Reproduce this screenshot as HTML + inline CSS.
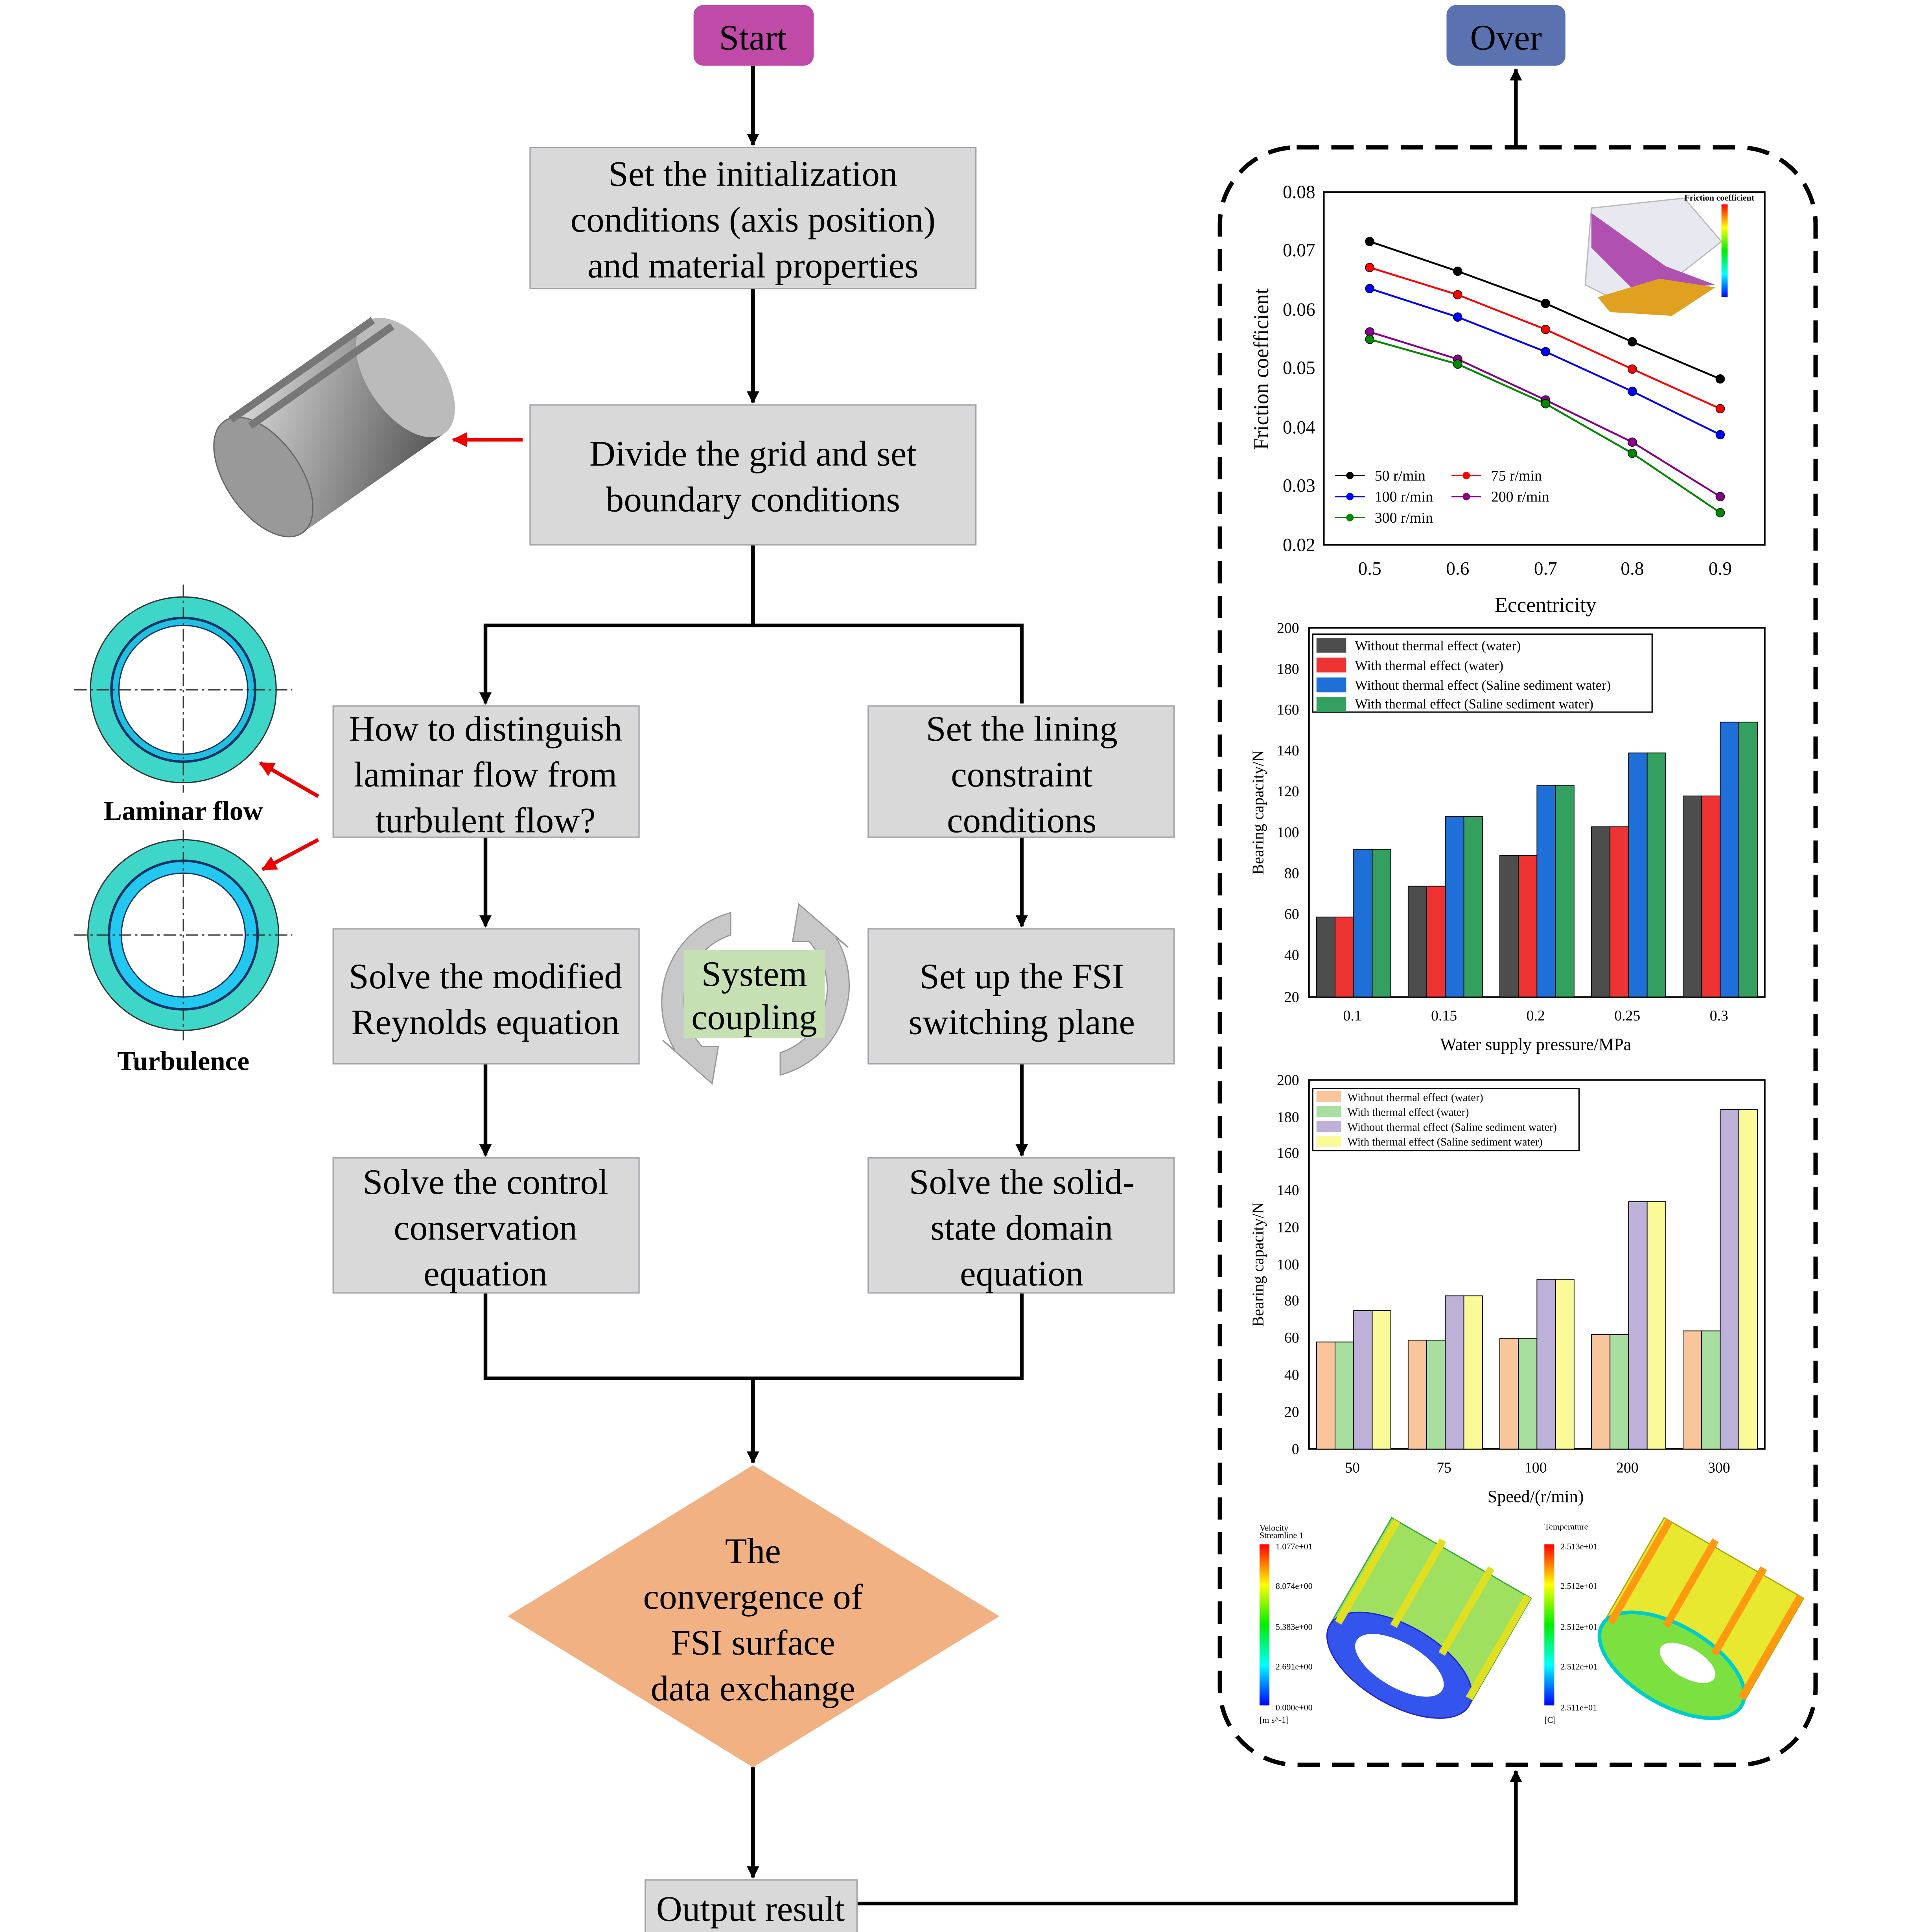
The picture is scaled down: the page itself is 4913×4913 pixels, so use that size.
<!DOCTYPE html>
<html><head><meta charset="utf-8"><style>
html,body{margin:0;padding:0;background:#fff}
svg{display:block}
text{font-family:"Liberation Serif",serif}
</style></head><body>
<svg width="4913" height="4913" viewBox="0 0 1560 1560" xmlns="http://www.w3.org/2000/svg">
<defs>
<marker id="ah" markerWidth="10" markerHeight="10" refX="9" refY="5" orient="auto" markerUnits="userSpaceOnUse"><path d="M0,0 L10,5 L0,10 z" fill="#000"/></marker>
<marker id="rh" markerWidth="12" markerHeight="12" refX="11" refY="6" orient="auto" markerUnits="userSpaceOnUse"><path d="M0,0 L12,6 L0,12 z" fill="#e00"/></marker>
<linearGradient id="cyl" x1="0" y1="0" x2="1" y2="1"><stop offset="0" stop-color="#ddd"/><stop offset="0.5" stop-color="#999"/><stop offset="1" stop-color="#555"/></linearGradient>
<linearGradient id="jet" x1="0" y1="1" x2="0" y2="0"><stop offset="0" stop-color="#00f"/><stop offset="0.25" stop-color="#0ff"/><stop offset="0.5" stop-color="#0e0"/><stop offset="0.75" stop-color="#ff0"/><stop offset="1" stop-color="#f00"/></linearGradient>
</defs>
<g stroke="#000" stroke-width="3" fill="none">
<line x1="608" y1="53" x2="608" y2="117" marker-end="url(#ah)"/>
<line x1="608" y1="233" x2="608" y2="325" marker-end="url(#ah)"/>
<polyline points="608,440 608,505 392,505 392,568" marker-end="url(#ah)"/>
<polyline points="608,505 825,505 825,568"/>
<line x1="392" y1="676" x2="392" y2="748" marker-end="url(#ah)"/>
<line x1="825" y1="676" x2="825" y2="748" marker-end="url(#ah)"/>
<line x1="392" y1="859" x2="392" y2="933" marker-end="url(#ah)"/>
<line x1="825" y1="859" x2="825" y2="933" marker-end="url(#ah)"/>
<polyline points="392,1044 392,1113 825,1113 825,1044"/>
<line x1="608" y1="1113" x2="608" y2="1181" marker-end="url(#ah)"/>
<line x1="608" y1="1427" x2="608" y2="1516" marker-end="url(#ah)"/>
<polyline points="692,1537 1224,1537 1224,1430" marker-end="url(#ah)"/>
<line x1="1224" y1="119" x2="1224" y2="56" marker-end="url(#ah)"/>
</g>
<rect x="560" y="4" width="97" height="49" rx="8" fill="#c04aa8"/>
<text x="608" y="40" font-size="29" text-anchor="middle" fill="#000">Start</text>
<rect x="1168" y="4" width="96" height="49" rx="8" fill="#5a73b0"/>
<text x="1216" y="40" font-size="29" text-anchor="middle" fill="#000">Over</text>
<g fill="#d9d9d9" stroke="#a0a0a8" stroke-width="1">
<rect x="428" y="119" width="360" height="114"/>
<rect x="428" y="327" width="360" height="113"/>
<rect x="269" y="570" width="247" height="106"/>
<rect x="701" y="570" width="247" height="106"/>
<rect x="269" y="750" width="247" height="109"/>
<rect x="701" y="750" width="247" height="109"/>
<rect x="269" y="935" width="247" height="109"/>
<rect x="701" y="935" width="247" height="109"/>
<rect x="521" y="1518" width="171" height="44"/>
</g>
<g font-size="29" text-anchor="middle" fill="#000">
<text x="608" y="150">Set the initialization</text>
<text x="608" y="187">conditions (axis position)</text>
<text x="608" y="224">and material properties</text>
<text x="608" y="376">Divide the grid and set</text>
<text x="608" y="413">boundary conditions</text>
<text x="392" y="598">How to distinguish</text>
<text x="392" y="635">laminar flow from</text>
<text x="392" y="672">turbulent flow?</text>
<text x="825" y="598">Set the lining</text>
<text x="825" y="635">constraint</text>
<text x="825" y="672">conditions</text>
<text x="392" y="798">Solve the modified</text>
<text x="392" y="835">Reynolds equation</text>
<text x="825" y="798">Set up the FSI</text>
<text x="825" y="835">switching plane</text>
<text x="392" y="964">Solve the control</text>
<text x="392" y="1001">conservation</text>
<text x="392" y="1038">equation</text>
<text x="825" y="964">Solve the solid-</text>
<text x="825" y="1001">state domain</text>
<text x="825" y="1038">equation</text>
<text x="606" y="1551">Output result</text>
</g>
<polygon points="608,1183 807,1305 608,1427 410,1305" fill="#f2b183"/>
<g font-size="29" text-anchor="middle"><text x="608" y="1262">The</text><text x="608" y="1299">convergence of</text><text x="608" y="1336">FSI surface</text><text x="608" y="1373">data exchange</text></g>
<!-- system coupling -->
<path d="M590,737 A75,75 0 0 0 545,848 L535,840 L575,875 L580,845 L567,845 A55,55 0 0 1 590,755 z" fill="#c8c8c8" stroke="#999"/>
<path d="M630,868 A75,75 0 0 0 675,757 L685,765 L645,730 L640,760 L653,760 A55,55 0 0 1 630,850 z" fill="#c8c8c8" stroke="#999"/>
<rect x="552" y="767" width="114" height="71" fill="#c6e0b4"/>
<text x="609" y="796" font-size="29" text-anchor="middle">System</text>
<text x="609" y="831" font-size="29" text-anchor="middle">coupling</text>
<!-- cylinder -->
<g transform="rotate(-35 270 345)">
<rect x="200" y="290" width="140" height="110" fill="url(#cyl)"/>
<ellipse cx="200" cy="345" rx="30" ry="55" fill="#999" stroke="#666"/>
<ellipse cx="340" cy="345" rx="30" ry="55" fill="#bbb"/>
<g stroke="#777" stroke-width="6"><line x1="205" y1="292" x2="345" y2="292"/><line x1="215" y1="305" x2="355" y2="305"/></g>
</g>
<line x1="422" y1="355" x2="366" y2="355" stroke="#e00" stroke-width="3" marker-end="url(#rh)"/>
<!-- rings -->
<g>
<circle cx="148" cy="557" r="75" fill="#3dd6c8" stroke="#333" stroke-width="1"/>
<circle cx="148" cy="557" r="58" fill="#20c0e0" stroke="#136" stroke-width="2"/>
<circle cx="148" cy="557" r="52" fill="#fff" stroke="#136" stroke-width="1"/>
<circle cx="148" cy="755" r="77" fill="#3dd6c8" stroke="#333" stroke-width="1"/>
<circle cx="148" cy="755" r="60" fill="#22c8f0" stroke="#136" stroke-width="2"/>
<circle cx="148" cy="755" r="50" fill="#fff" stroke="#136" stroke-width="1"/>
<g stroke="#333" stroke-dasharray="10,3,2,3" stroke-width="1">
<line x1="60" y1="557" x2="236" y2="557"/><line x1="148" y1="472" x2="148" y2="640"/>
<line x1="60" y1="755" x2="236" y2="755"/><line x1="148" y1="670" x2="148" y2="840"/>
</g>
</g>
<text x="148" y="662" font-size="22" font-weight="bold" text-anchor="middle">Laminar flow</text>
<text x="148" y="864" font-size="22" font-weight="bold" text-anchor="middle">Turbulence</text>
<line x1="257" y1="643" x2="210" y2="616" stroke="#e00" stroke-width="3" marker-end="url(#rh)"/>
<line x1="257" y1="678" x2="212" y2="702" stroke="#e00" stroke-width="3" marker-end="url(#rh)"/>
<!-- dashed container -->
<rect x="985" y="119" width="481" height="1306" rx="62" fill="none" stroke="#000" stroke-width="3.5" stroke-dasharray="18,10"/>
<!-- chart 1 -->
<rect x="1069" y="155" width="356" height="285" fill="none" stroke="#000" stroke-width="1.2"/>
<g font-size="15" text-anchor="end">
<text x="1062" y="160">0.08</text><text x="1062" y="207">0.07</text><text x="1062" y="255">0.06</text><text x="1062" y="302">0.05</text><text x="1062" y="350">0.04</text><text x="1062" y="397">0.03</text><text x="1062" y="445">0.02</text>
</g>
<g font-size="15" text-anchor="middle"><text x="1106" y="464">0.5</text><text x="1177" y="464">0.6</text><text x="1248" y="464">0.7</text><text x="1318" y="464">0.8</text><text x="1389" y="464">0.9</text></g>
<text x="1248" y="494" font-size="17" text-anchor="middle">Eccentricity</text>
<text transform="translate(1024 298) rotate(-90)" font-size="17" text-anchor="middle">Friction coefficient</text>
<g fill="none" stroke-width="1.5">
<polyline stroke="#000" points="1106,195 1177,219 1248,245 1318,276 1389,306"/>
<polyline stroke="#f00" points="1106,216 1177,238 1248,266 1318,298 1389,330"/>
<polyline stroke="#00f" points="1106,233 1177,256 1248,284 1318,316 1389,351"/>
<polyline stroke="#808" points="1106,268 1177,290 1248,323 1318,357 1389,401"/>
<polyline stroke="#080" points="1106,274 1177,294 1248,326 1318,366 1389,414"/>
</g>
<g id="dots"></g>
<g font-size="12">
<line x1="1078" y1="384" x2="1102" y2="384" stroke="#000"/><circle cx="1090" cy="384" r="3" fill="#000"/><text x="1110" y="388">50 r/min</text>
<line x1="1172" y1="384" x2="1196" y2="384" stroke="#f00"/><circle cx="1184" cy="384" r="3" fill="#f00"/><text x="1204" y="388">75 r/min</text>
<line x1="1078" y1="401" x2="1102" y2="401" stroke="#00f"/><circle cx="1090" cy="401" r="3" fill="#00f"/><text x="1110" y="405">100 r/min</text>
<line x1="1172" y1="401" x2="1196" y2="401" stroke="#808"/><circle cx="1184" cy="401" r="3" fill="#808"/><text x="1204" y="405">200 r/min</text>
<line x1="1078" y1="418" x2="1102" y2="418" stroke="#080"/><circle cx="1090" cy="418" r="3" fill="#080"/><text x="1110" y="422">300 r/min</text>
</g>
<!-- inset 3D -->
<polygon points="1285,168 1360,160 1390,195 1320,250 1280,230" fill="#e8e8f0" stroke="#bbb"/>
<polygon points="1285,172 1345,215 1385,230 1320,235 1285,200" fill="#b050b0"/>
<polygon points="1290,240 1340,225 1385,232 1350,255 1300,252" fill="#e0a020"/>
<rect x="1390" y="165" width="5" height="75" fill="url(#jet)"/>
<text x="1360" y="162" font-size="7" font-weight="bold">Friction coefficient</text>
<!-- chart 2 -->
<rect x="1057" y="507" width="368" height="298" fill="none" stroke="#000" stroke-width="1.2"/>
<g font-size="12" text-anchor="end">
<text x="1049" y="511">200</text><text x="1049" y="544">180</text><text x="1049" y="577">160</text><text x="1049" y="610">140</text><text x="1049" y="643">120</text><text x="1049" y="676">100</text><text x="1049" y="709">80</text><text x="1049" y="742">60</text><text x="1049" y="775">40</text><text x="1049" y="809">20</text>
</g>
<g font-size="12" text-anchor="middle"><text x="1092" y="824">0.1</text><text x="1166" y="824">0.15</text><text x="1240" y="824">0.2</text><text x="1314" y="824">0.25</text><text x="1388" y="824">0.3</text></g>
<text x="1240" y="848" font-size="14" text-anchor="middle">Water supply pressure/MPa</text>
<text transform="translate(1020 656) rotate(-90)" font-size="13" text-anchor="middle">Bearing capacity/N</text>
<g id="bars2"></g>
<rect x="1060" y="512" width="274" height="63" fill="#fff" stroke="#000"/>
<g font-size="11">
<rect x="1063" y="515" width="24" height="12" fill="#4d4d4d"/><text x="1094" y="525">Without thermal effect (water)</text>
<rect x="1063" y="531" width="24" height="12" fill="#ee3333"/><text x="1094" y="541">With thermal effect (water)</text>
<rect x="1063" y="547" width="24" height="12" fill="#1f6fd9"/><text x="1094" y="557">Without thermal effect (Saline sediment water)</text>
<rect x="1063" y="563" width="24" height="12" fill="#33a060"/><text x="1094" y="572">With thermal effect (Saline sediment water)</text>
</g>
<!-- chart 3 -->
<rect x="1057" y="872" width="368" height="298" fill="none" stroke="#000" stroke-width="1.2"/>
<g font-size="12" text-anchor="end">
<text x="1049" y="876">200</text><text x="1049" y="906">180</text><text x="1049" y="935">160</text><text x="1049" y="965">140</text><text x="1049" y="995">120</text><text x="1049" y="1025">100</text><text x="1049" y="1054">80</text><text x="1049" y="1084">60</text><text x="1049" y="1114">40</text><text x="1049" y="1144">20</text><text x="1049" y="1174">0</text>
</g>
<g font-size="12" text-anchor="middle"><text x="1092" y="1189">50</text><text x="1166" y="1189">75</text><text x="1240" y="1189">100</text><text x="1314" y="1189">200</text><text x="1388" y="1189">300</text></g>
<text x="1240" y="1213" font-size="14" text-anchor="middle">Speed/(r/min)</text>
<text transform="translate(1020 1021) rotate(-90)" font-size="13" text-anchor="middle">Bearing capacity/N</text>
<g id="bars3"></g>
<rect x="1060" y="879" width="215" height="50" fill="#fff" stroke="#000"/>
<g font-size="9">
<rect x="1063" y="881" width="20" height="9" fill="#f9c59b"/><text x="1088" y="889">Without thermal effect (water)</text>
<rect x="1063" y="893" width="20" height="9" fill="#a8dea0"/><text x="1088" y="901">With thermal effect (water)</text>
<rect x="1063" y="905" width="20" height="9" fill="#bdb1d9"/><text x="1088" y="913">Without thermal effect (Saline sediment water)</text>
<rect x="1063" y="917" width="20" height="9" fill="#fafa99"/><text x="1088" y="925">With thermal effect (Saline sediment water)</text>
</g>
<!-- sims -->
<g font-family="Liberation Sans,sans-serif" font-size="7">
<text x="1017" y="1236" font-family="Liberation Sans,sans-serif">Velocity</text><text x="1017" y="1242" font-family="Liberation Sans,sans-serif">Streamline 1</text>
<rect x="1017" y="1247" width="8" height="130" fill="url(#jet)"/>
<text x="1030" y="1251" font-family="Liberation Sans,sans-serif">1.077e+01</text><text x="1030" y="1283" font-family="Liberation Sans,sans-serif">8.074e+00</text><text x="1030" y="1316" font-family="Liberation Sans,sans-serif">5.383e+00</text><text x="1030" y="1348" font-family="Liberation Sans,sans-serif">2.691e+00</text><text x="1030" y="1381" font-family="Liberation Sans,sans-serif">0.000e+00</text><text x="1017" y="1391" font-family="Liberation Sans,sans-serif">[m s^-1]</text>
<text x="1247" y="1235" font-family="Liberation Sans,sans-serif">Temperature</text>
<rect x="1247" y="1247" width="8" height="130" fill="url(#jet)"/>
<text x="1260" y="1251" font-family="Liberation Sans,sans-serif">2.513e+01</text><text x="1260" y="1283" font-family="Liberation Sans,sans-serif">2.512e+01</text><text x="1260" y="1316" font-family="Liberation Sans,sans-serif">2.512e+01</text><text x="1260" y="1348" font-family="Liberation Sans,sans-serif">2.512e+01</text><text x="1260" y="1381" font-family="Liberation Sans,sans-serif">2.511e+01</text><text x="1247" y="1391" font-family="Liberation Sans,sans-serif">[C]</text>
</g>
<g transform="rotate(30 1150 1310)">
<rect x="1085" y="1250" width="130" height="100" fill="#9fe060" stroke="#3a3" />
<ellipse cx="1150" cy="1350" rx="65" ry="32" fill="#3355ee" stroke="#22c"/>
<ellipse cx="1150" cy="1350" rx="40" ry="18" fill="#fff"/>
<g stroke="#e0e020" stroke-width="6"><line x1="1090" y1="1250" x2="1090" y2="1345"/><line x1="1130" y1="1245" x2="1130" y2="1325"/><line x1="1175" y1="1245" x2="1175" y2="1325"/><line x1="1212" y1="1250" x2="1212" y2="1345"/></g>
</g>
<g transform="rotate(30 1370 1310)">
<rect x="1305" y="1250" width="130" height="100" fill="#e8e830" stroke="#aa0"/>
<ellipse cx="1370" cy="1350" rx="65" ry="32" fill="#7be040" stroke="#0cc" stroke-width="3"/>
<ellipse cx="1380" cy="1342" rx="25" ry="12" fill="#fff"/>
<g stroke="#ff9a10" stroke-width="6"><line x1="1310" y1="1250" x2="1310" y2="1345"/><line x1="1350" y1="1245" x2="1350" y2="1325"/><line x1="1395" y1="1245" x2="1395" y2="1325"/><line x1="1432" y1="1250" x2="1432" y2="1345"/></g>
</g>
</svg>
<script>
var ns="http://www.w3.org/2000/svg";
function R(g,x,y,w,h,c){var r=document.createElementNS(ns,"rect");r.setAttribute("x",x);r.setAttribute("y",y);r.setAttribute("width",w);r.setAttribute("height",h);r.setAttribute("fill",c);r.setAttribute("stroke","#000");r.setAttribute("stroke-width","0.6");g.appendChild(r);}
var g2=document.getElementById("bars2"),c2=["#4d4d4d","#ee3333","#1f6fd9","#33a060"],v2=[[59,59,92,92],[74,74,108,108],[89,89,123,123],[103,103,139,139],[118,118,154,154]];
var g3=document.getElementById("bars3"),c3=["#f9c59b","#a8dea0","#bdb1d9","#fafa99"],v3=[[58,58,75,75],[59,59,83,83],[60,60,92,92],[62,62,134,134],[64,64,184,184]];
for(var i=0;i<5;i++){for(var j=0;j<4;j++){var x=1063+i*74+j*15;
var y=805-(v2[i][j]-20)*1.656;R(g2,x,y,15,805-y,c2[j]);
var y3=1170-v3[i][j]*1.49;R(g3,x,y3,15,1170-y3,c3[j]);}}
var d=document.getElementById("dots"),cols=["#000","#f00","#00f","#808","#080"],pts=[[195,219,245,276,306],[216,238,266,298,330],[233,256,284,316,351],[268,290,323,357,401],[274,294,326,366,414]],xs=[1106,1177,1248,1318,1389];
for(var a=0;a<5;a++)for(var b=0;b<5;b++){var c=document.createElementNS(ns,"circle");c.setAttribute("cx",xs[b]);c.setAttribute("cy",pts[a][b]);c.setAttribute("r",3.5);c.setAttribute("fill",cols[a]);c.setAttribute("stroke","#000");c.setAttribute("stroke-width","0.5");d.appendChild(c);}
</script>
</body></html>
